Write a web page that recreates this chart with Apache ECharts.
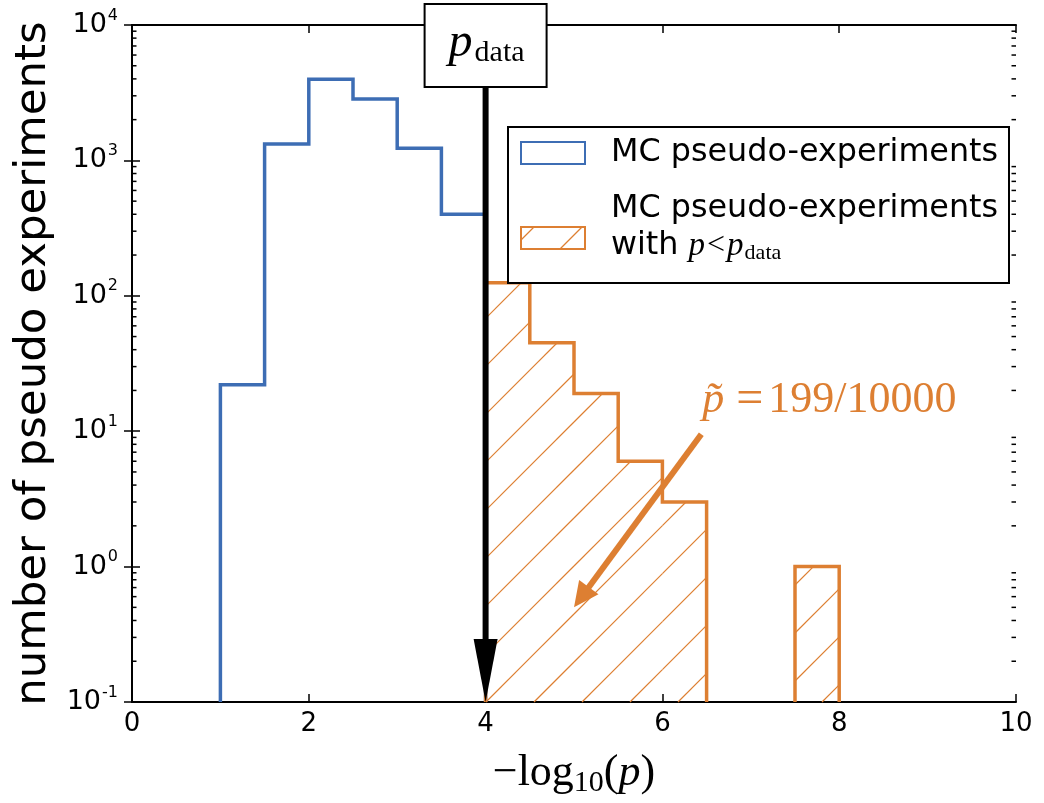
<!DOCTYPE html>
<html><head><meta charset="utf-8">
<script src="https://cdn.jsdelivr.net/npm/echarts@6/dist/echarts.min.js"></script>
<style>html,body{margin:0;padding:0;background:#fff}#c{width:1044px;height:803px}</style>
</head><body><div id="c"></div>
<script>
// ---- data ----
const blueEdges = [1.0, 1.5, 2.0, 2.5, 3.0, 3.5, 4.0];
const blueCounts = [22, 1320, 3980, 2840, 1230, 400];
const orangeEdges = [4.0, 4.5, 5.0, 5.5, 6.0, 6.5, 7.0, 7.5, 8.0];
const orangeCounts = [125, 45, 19, 6, 3, 0, 0, 1];
const xTicks = [0, 2, 4, 6, 8, 10];
const yExponents = [-1, 0, 1, 2, 3, 4];
const pDataX = 4;
const annoTip = [5.0, 0.5];
const annoTail = [6.44, 9.5];
const annoLabel = 'p\u0303';
const annoValue = '199/10000';
const legendNames = ['MC pseudo-experiments', 'MC pseudo-experiments'];

const YMIN = Math.pow(10, yExponents[0]);
const YMAX = Math.pow(10, yExponents[yExponents.length - 1]);
const XMIN = xTicks[0], XMAX = xTicks[xTicks.length - 1];
const BLUE = '#3d6db4', ORANGE = '#dd7f32';
const SERIF = 'Liberation Serif';
const SANS = 'DejaVu Sans';
const HATCH = 48;

function stepPoints(edges, counts, floor) {
  const pts = [];
  let open = false;
  counts.forEach((c, i) => {
    if (c > 0) {
      if (!open) { pts.push([edges[i], floor]); open = true; }
      pts.push([edges[i], c], [edges[i + 1], c]);
    } else if (open) {
      pts.push([edges[i], floor]);
      pts.push([edges[i], null]);
      open = false;
    }
  });
  if (open) pts.push([edges[edges.length - 1], floor]);
  return pts;
}

// "/" hatch lines (x + y = const in screen px) clipped to a pixel rectangle
function hatchLines(x0, y0, x1, y1, off) {
  const out = [];
  const cStart = Math.ceil((x0 + y0 - off) / HATCH) * HATCH + off;
  for (let c = cStart; c <= x1 + y1; c += HATCH) {
    const lo = Math.max(x0, c - y1), hi = Math.min(x1, c - y0);
    if (hi > lo) out.push({ type: 'line', shape: { x1: lo, y1: c - lo, x2: hi, y2: c - hi },
      style: { stroke: ORANGE, lineWidth: 1.2 } });
  }
  return out;
}

const minorVals = [];
yExponents.slice(0, -1).forEach(e => {
  for (let m = 2; m <= 9; m++) minorVals.push(m * Math.pow(10, e));
});
const minorData = [];
minorVals.forEach(v => { minorData.push([XMIN, v]); minorData.push([XMAX, v]); });

const hatchBins = [];
orangeCounts.forEach((c, i) => { if (c > 0) hatchBins.push([orangeEdges[i], orangeEdges[i + 1], c]); });

const chart = echarts.init(document.getElementById('c'));
const tickStyle = { color: '#000', width: 1.5 };
const lineStyle = { color: '#000', width: 2 };

const option = {
  animation: false,
  backgroundColor: '#fff',
  grid: { left: 132, top: 25, width: 884, height: 683, containLabel: false },
  xAxis: [
    {
      type: 'value', min: XMIN, max: XMAX, interval: 2, position: 'bottom',
      axisLine: { lineStyle: lineStyle },
      axisTick: { inside: true, length: 8, lineStyle: tickStyle },
      splitLine: { show: false },
      axisLabel: { fontFamily: SANS, fontSize: 26, color: '#000', margin: 9 },
      name: '{a|\u2212log}{s|10}{a|(}{i|p}{a|)}',
      nameLocation: 'middle', nameGap: 46,
      nameTextStyle: {
        rich: {
          a: { fontFamily: SERIF, fontSize: 44, color: '#000' },
          s: { fontFamily: SERIF, fontSize: 30, color: '#000', padding: [20, 0, 0, 0] },
          i: { fontFamily: SERIF, fontStyle: 'italic', fontSize: 44, color: '#000' }
        }
      }
    },
    {
      type: 'value', min: XMIN, max: XMAX, interval: 2, position: 'top',
      axisLine: { lineStyle: lineStyle },
      axisTick: { inside: true, length: 8, lineStyle: tickStyle },
      axisLabel: { show: false }, splitLine: { show: false }
    }
  ],
  yAxis: [
    {
      type: 'log', logBase: 10, min: YMIN, max: YMAX, position: 'left',
      axisLine: { show: true, lineStyle: lineStyle },
      axisTick: { show: true, inside: true, length: 8, lineStyle: tickStyle },
      splitLine: { show: false },
      axisLabel: {
        margin: 14, color: '#000',
        formatter: v => '{b|10}{s|' + Math.round(Math.log10(v)) + '}',
        rich: {
          b: { fontFamily: SANS, fontSize: 27, color: '#000' },
          s: { fontFamily: SANS, fontSize: 16, color: '#000', padding: [0, 0, 19, 1] }
        }
      },
      name: 'number of pseudo experiments', nameLocation: 'middle', nameGap: 76,
      nameTextStyle: { fontFamily: SANS, fontSize: 43.5, color: '#000' }
    },
    {
      type: 'log', logBase: 10, min: YMIN, max: YMAX, position: 'right',
      axisLine: { show: true, lineStyle: lineStyle },
      axisTick: { show: true, inside: true, length: 8, lineStyle: tickStyle },
      axisLabel: { show: false }, splitLine: { show: false }
    }
  ],
  series: [
    {
      type: 'custom', xAxisIndex: 0, yAxisIndex: 0, silent: true, z: 2,
      data: hatchBins,
      encode: { x: [0, 1], y: 2 },
      renderItem: (p, api) => {
        const tl = api.coord([api.value(0), api.value(2)]);
        const br = api.coord([api.value(1), YMIN]);
        return { type: 'group', children: hatchLines(tl[0], tl[1], br[0], br[1], 36) };
      }
    },
    {
      type: 'line', name: legendNames[0], data: stepPoints(blueEdges, blueCounts, YMIN),
      xAxisIndex: 0, yAxisIndex: 0, symbol: 'none', connectNulls: false,
      lineStyle: { color: BLUE, width: 3.5, join: 'miter', cap: 'butt' }, z: 3
    },
    {
      type: 'line', name: legendNames[1], data: stepPoints(orangeEdges, orangeCounts, YMIN),
      xAxisIndex: 0, yAxisIndex: 0, symbol: 'none', connectNulls: false,
      lineStyle: { color: ORANGE, width: 3.5, join: 'miter', cap: 'butt' }, z: 4
    },
    {
      type: 'custom', xAxisIndex: 0, yAxisIndex: 0, silent: true, z: 5,
      data: minorData,
      renderItem: (p, api) => {
        const a = api.coord([api.value(0), api.value(1)]);
        const dir = api.value(0) === XMIN ? 1 : -1;
        return { type: 'line', shape: { x1: a[0], y1: a[1], x2: a[0] + dir * 4.5, y2: a[1] },
          style: { stroke: '#000', lineWidth: 1.5 } };
      }
    }
  ]
};
chart.setOption(option);

// ---- annotations positioned through the axes ----
const P = (x, y) => chart.convertToPixel({ xAxisIndex: 0, yAxisIndex: 0 }, [x, y]);
const base = P(pDataX, YMIN);
const boxW = 122, boxTop = 4, boxH = 83;
const g = [];

// p_data box and black arrow
g.push({ type: 'line', z: 100, shape: { x1: base[0], y1: boxTop + boxH, x2: base[0], y2: base[1] - 58 },
  style: { stroke: '#000', lineWidth: 6 } });
g.push({ type: 'polygon', z: 100, shape: { points: [[base[0] - 12, base[1] - 63], [base[0] + 12, base[1] - 63], [base[0], base[1]]] },
  style: { fill: '#000' } });
g.push({ type: 'rect', z: 101, shape: { x: base[0] - boxW / 2, y: boxTop, width: boxW, height: boxH },
  style: { fill: '#fff', stroke: '#000', lineWidth: 2 } });
g.push({ type: 'text', z: 102, x: base[0] + 1, y: boxTop + boxH / 2 - 2,
  style: { text: '{i|p}{s|data}', align: 'center', verticalAlign: 'middle',
    rich: { i: { fontFamily: SERIF, fontStyle: 'italic', fontSize: 48, fill: '#000' },
            s: { fontFamily: SERIF, fontSize: 30, fill: '#000', padding: [20, 0, 0, 2] } } } });

// p-tilde annotation arrow
const T = P(annoTip[0], annoTip[1]);
const S = P(annoTail[0], annoTail[1]);
const dx = T[0] - S[0], dy = T[1] - S[1], L = Math.hypot(dx, dy);
const ux = dx / L, uy = dy / L, nx = -uy, ny = ux;
const HL = 25, HW = 12;
const B = [T[0] - ux * HL, T[1] - uy * HL];
g.push({ type: 'line', z: 100, shape: { x1: S[0], y1: S[1], x2: B[0] + ux * 2, y2: B[1] + uy * 2 },
  style: { stroke: ORANGE, lineWidth: 6 } });
g.push({ type: 'polygon', z: 100, shape: { points: [T, [B[0] + nx * HW, B[1] + ny * HW], [B[0] - nx * HW, B[1] - ny * HW]] },
  style: { fill: ORANGE } });
g.push({ type: 'text', z: 100, x: S[0] + 1, y: S[1] - 34,
  style: { text: '{i|' + annoLabel + '}{m| =}{n|' + annoValue + '}', align: 'left', verticalAlign: 'middle',
    rich: { i: { fontFamily: SERIF, fontStyle: 'italic', fontSize: 44, fill: ORANGE },
            m: { fontFamily: SERIF, fontSize: 48, fill: ORANGE },
            n: { fontFamily: SERIF, fontSize: 44, fill: ORANGE, padding: [0, 0, 0, 5] } } } });

// legend
const LG = { x: 508, y: 127, w: 501, h: 156 };
g.push({ type: 'rect', z: 110, shape: { x: LG.x, y: LG.y, width: LG.w, height: LG.h },
  style: { fill: '#fff', stroke: '#000', lineWidth: 2 } });
g.push({ type: 'rect', z: 111, shape: { x: 521, y: 142, width: 64, height: 22 },
  style: { fill: 'none', stroke: BLUE, lineWidth: 2 } });
g.push({ type: 'group', z: 111, children: hatchLines(521, 227, 585, 249, 41).map(e => Object.assign(e, { z: 111 })) });
g.push({ type: 'rect', z: 112, shape: { x: 521, y: 227, width: 64, height: 22 },
  style: { fill: 'none', stroke: ORANGE, lineWidth: 2 } });
g.push({ type: 'text', z: 111, x: 611, y: 153,
  style: { text: legendNames[0], fontFamily: SANS, fontSize: 31.8, fill: '#000', verticalAlign: 'middle' } });
g.push({ type: 'text', z: 111, x: 611, y: 209,
  style: { text: legendNames[1], fontFamily: SANS, fontSize: 31.8, fill: '#000', verticalAlign: 'middle' } });
g.push({ type: 'text', z: 111, x: 611, y: 246,
  style: { text: '{t|with }{i|p}{m|<}{i|p}{s|data}', verticalAlign: 'middle',
    rich: { t: { fontFamily: SANS, fontSize: 31.8, fill: '#000' },
            i: { fontFamily: SERIF, fontStyle: 'italic', fontSize: 33, fill: '#000' },
            m: { fontFamily: SERIF, fontSize: 32, fill: '#000', padding: [0, 2, 0, 2] },
            s: { fontFamily: SERIF, fontSize: 22, fill: '#000', padding: [14, 0, 0, 1] } } } });

chart.setOption({ graphic: g });
</script></body></html>
